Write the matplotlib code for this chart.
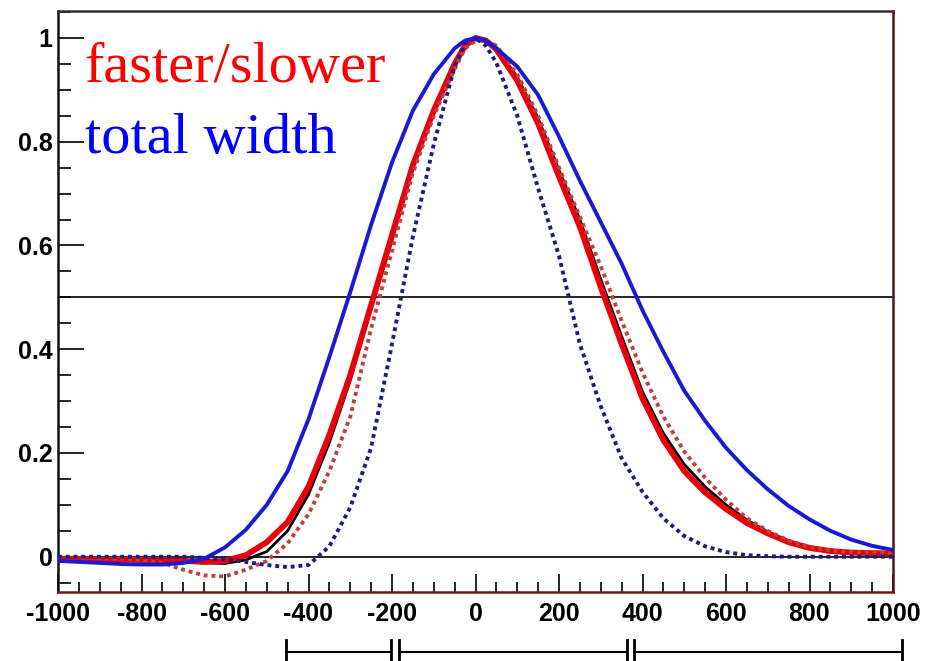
import numpy as np
import matplotlib
matplotlib.use("Agg")
import matplotlib.pyplot as plt
from matplotlib.ticker import MultipleLocator, FixedLocator

plt.rcParams["axes.unicode_minus"] = False

# x positions (same for every curve)
xs = [-1000, -950, -900, -850, -800, -750, -700, -650, -600, -550,
      -500, -450, -400, -350, -300, -250, -200, -150, -100, -50,
      -25, 0, 25,
      50, 100, 150, 200, 250, 300, 350, 400, 450, 500,
      550, 600, 650, 700, 750, 800, 850, 900, 950, 1000]

black_solid = [-0.004, -0.005, -0.006, -0.007, -0.008, -0.009, -0.010, -0.012, -0.013, -0.006,
               0.010, 0.050, 0.120, 0.220, 0.340, 0.480, 0.610, 0.750, 0.860, 0.950,
               0.985, 1.000, 0.995,
               0.980, 0.925, 0.845, 0.745, 0.650, 0.535, 0.425, 0.318, 0.238, 0.178,
               0.135, 0.100, 0.071, 0.048, 0.030, 0.018, 0.011, 0.008, 0.007, 0.006]

red_solid = [-0.004, -0.004, -0.005, -0.005, -0.006, -0.007, -0.008, -0.010, -0.008, 0.003,
             0.028, 0.067, 0.135, 0.235, 0.350, 0.485, 0.620, 0.755, 0.860, 0.950,
             0.985, 1.000, 0.995,
             0.978, 0.918, 0.835, 0.733, 0.636, 0.520, 0.410, 0.305, 0.225, 0.165,
             0.124, 0.092, 0.065, 0.045, 0.028, 0.017, 0.011, 0.008, 0.007, 0.006]

red_dotted = [-0.002, -0.002, -0.003, -0.004, -0.006, -0.012, -0.025, -0.036, -0.038, -0.025,
              -0.008, 0.026, 0.082, 0.165, 0.270, 0.440, 0.590, 0.740, 0.850, 0.940,
              0.980, 0.995, 0.995,
              0.985, 0.930, 0.850, 0.750, 0.655, 0.560, 0.455, 0.355, 0.270, 0.203,
              0.152, 0.110, 0.074, 0.050, 0.031, 0.019, 0.012, 0.009, 0.008, 0.007]

blue_solid = [-0.008, -0.010, -0.012, -0.014, -0.015, -0.015, -0.012, -0.004, 0.018, 0.052,
              0.100, 0.165, 0.265, 0.385, 0.510, 0.640, 0.760, 0.860, 0.930, 0.980,
              0.995, 1.000, 0.995,
              0.980, 0.945, 0.890, 0.810, 0.725, 0.645, 0.565, 0.475, 0.395, 0.320,
              0.262, 0.210, 0.167, 0.130, 0.098, 0.072, 0.050, 0.033, 0.021, 0.013]

blue_dotted = [0.000, 0.000, 0.000, 0.000, 0.000, 0.000, 0.000, -0.002, -0.005, -0.010,
               -0.016, -0.020, -0.016, 0.020, 0.095, 0.210, 0.410, 0.617, 0.795, 0.945,
               0.990, 1.000, 0.985,
               0.952, 0.850, 0.710, 0.580, 0.410, 0.290, 0.190, 0.125, 0.074, 0.040,
               0.020, 0.009, 0.003, 0.001, 0.000, 0.000, 0.000, 0.000, 0.000, 0.000]

# interval bars under the axis
bar_starts = [-455, -183, 380]
bar_ends = [-202, 363, 1022]

fig = plt.figure(figsize=(9.38, 6.61), dpi=100)
ax = fig.add_axes([58 / 938, 69 / 661, 835 / 938, 581 / 661])

ax.axhline(0, color="black", lw=1.2, zorder=1)
ax.axhline(0.5, color="black", lw=1.2, zorder=1)

dots = (0, (1, 1))
ax.plot(xs, black_solid, color="black", lw=2.0, zorder=2)
ax.plot(xs, red_solid, color="#e8000a", lw=4.2, zorder=3)
ax.plot(xs, red_dotted, color="#c0403a", lw=2.8, ls=dots, zorder=4)
ax.plot(xs, blue_dotted, color="#1c1c82", lw=2.8, ls=dots, zorder=4)
ax.plot(xs, blue_solid, color="#1a1ad0", lw=2.8, zorder=5)

ax.set_xlim(-1000, 1000)
ax.set_ylim(-0.068, 1.052)

ax.xaxis.set_major_locator(MultipleLocator(200))
ax.xaxis.set_minor_locator(MultipleLocator(50))
ax.yaxis.set_major_locator(FixedLocator([0, 0.2, 0.4, 0.6, 0.8, 1.0]))
ax.yaxis.set_minor_locator(MultipleLocator(0.05))
ax.yaxis.set_major_formatter(plt.FuncFormatter(lambda v, p: f"{v:g}"))

ax.tick_params(axis="x", which="major", direction="in", length=13, width=1.2, pad=7,
               top=False, labelsize=18)
ax.tick_params(axis="x", which="minor", direction="in", length=7, width=1.2, top=False)
ax.tick_params(axis="y", which="major", direction="in", length=19, width=1.2, pad=4,
               right=False, labelsize=18)
ax.tick_params(axis="y", which="minor", direction="in", length=9.5, width=1.2, right=False)
for lab in ax.get_xticklabels() + ax.get_yticklabels():
    lab.set_fontfamily("Liberation Sans")
    lab.set_fontweight("bold")

ax.spines["left"].set_color("#111111")
ax.spines["top"].set_color("#333333")
ax.spines["bottom"].set_color("#7a1414")
ax.spines["right"].set_color("#5a1010")
for s in ax.spines.values():
    s.set_linewidth(1.8)

ax.text(0.032, 0.878, "faster/slower", transform=ax.transAxes, color="#ff0000",
        fontsize=42, family="Liberation Serif", va="baseline", ha="left")
ax.text(0.032, 0.756, "total width", transform=ax.transAxes, color="#0000ff",
        fontsize=42, family="Liberation Serif", va="baseline", ha="left")

# interval markers below the x axis
tr = ax.get_xaxis_transform()
for a, b in zip(bar_starts, bar_ends):
    ax.plot([a, b], [-0.103, -0.103], color="black", lw=1.5, transform=tr, clip_on=False)
    for e in (a, b):
        ax.plot([e, e], [-0.083, -0.13], color="black", lw=2.0, transform=tr, clip_on=False)

fig.savefig("out.png", dpi=100)
